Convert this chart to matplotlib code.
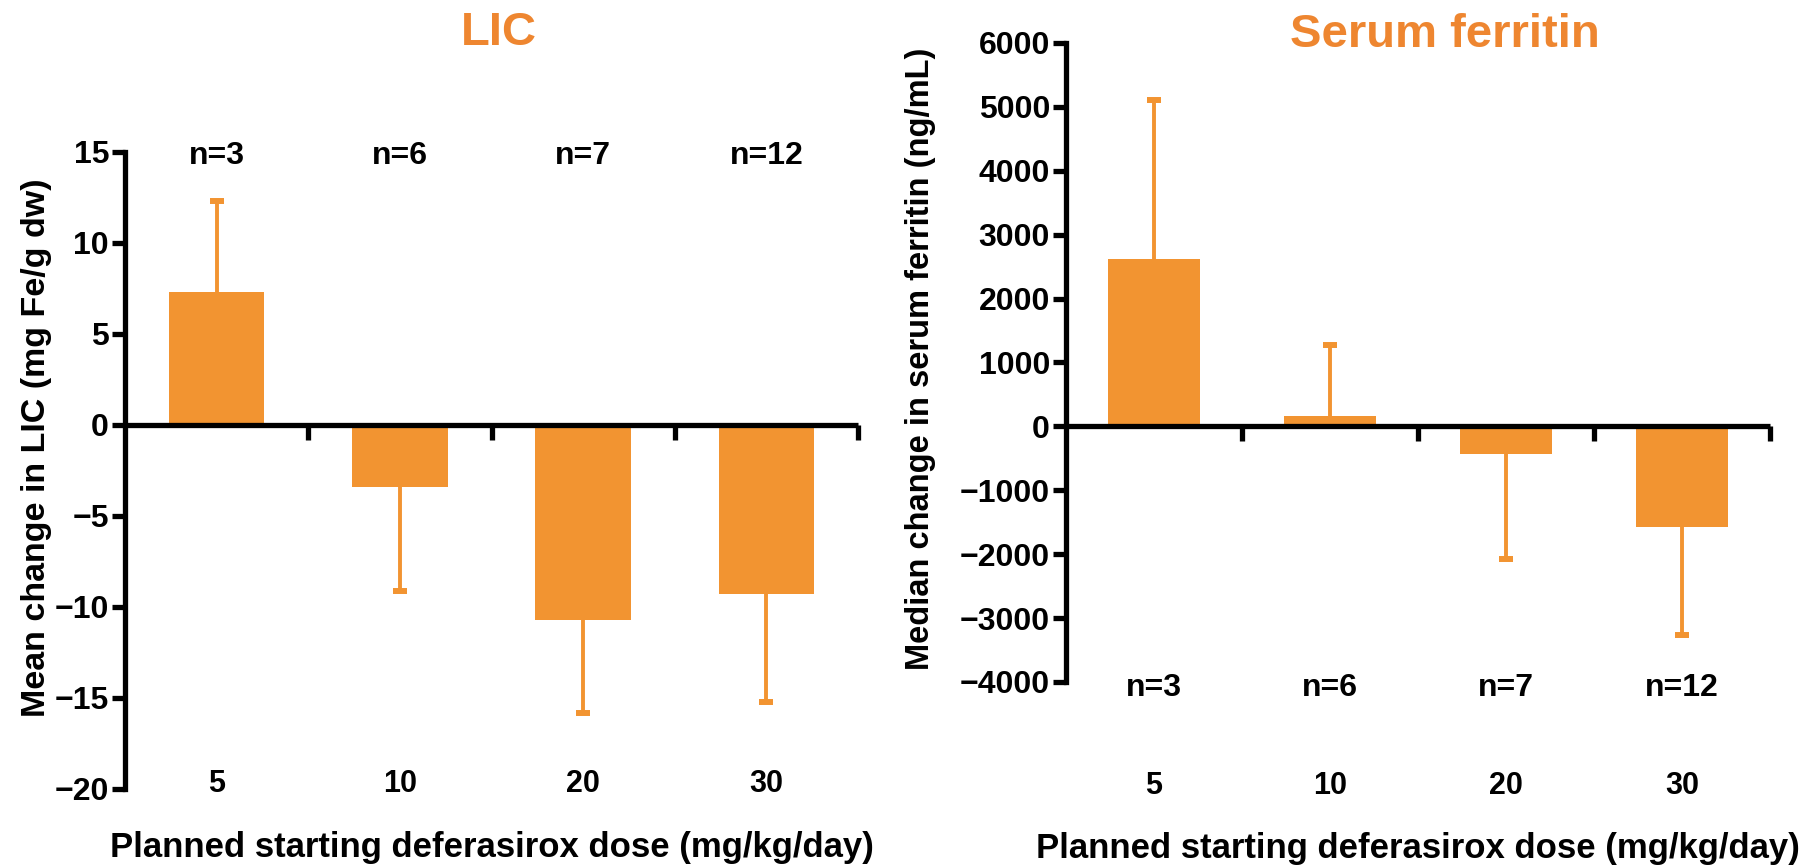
import matplotlib
matplotlib.use("Agg")
import matplotlib.pyplot as plt
import numpy as np

plt.rcParams['font.family'] = ['Liberation Sans', 'DejaVu Sans']
plt.rcParams['font.weight'] = 'bold'

# ---- data ----
doses = ["5", "10", "20", "30"]
n_labels = ["n=3", "n=6", "n=7", "n=12"]

lic_mean = [7.3, -3.4, -10.7, -9.3]
lic_err_end = [12.3, -9.1, -15.8, -15.2]

sf_median = [2620, 170, -440, -1580]
sf_err_end = [5100, 1280, -2080, -3270]

BAR = "#F29431"
TITLE = "#EE8630"

fig = plt.figure(figsize=(18.05, 8.65), dpi=100)

ax1 = fig.add_axes([0.06925, 0.0879, 0.4061, 0.7364])
ax2 = fig.add_axes([0.5906, 0.2116, 0.3900, 0.7387])

def style(ax, vals, ends, ylim, yticks, n_y, ylabel, label_xy, ylabel_size):
    x = np.arange(len(doses))
    ax.bar(x, vals, width=0.52, color=BAR, zorder=2)
    ax.vlines(x, vals, ends, color=BAR, lw=2.8, zorder=1.5)
    ax.plot(x, ends, ls='none', marker='_', ms=9.5, mew=4.3, color=BAR, zorder=1.5)
    ax.set_xlim(-0.5, 3.5)
    ax.set_ylim(*ylim)
    ax.set_yticks(yticks)
    for s in ['top', 'right']:
        ax.spines[s].set_visible(False)
    ax.spines['left'].set_linewidth(3.8)
    ax.spines['bottom'].set_linewidth(3.8)
    ax.spines['bottom'].set_position(('data', 0))
    ax.spines['bottom'].set_capstyle('butt')
    ax.tick_params(axis='y', length=9.5, width=3.8, labelsize=23, pad=2)
    ax.set_xticks(x)
    ax.set_xticklabels(doses)
    ax.set_xticks(x + 0.5, minor=True)
    ax.tick_params(axis='x', which='major', length=0, labelsize=22, pad=248)
    ax.tick_params(axis='x', which='minor', length=11, width=3.8, direction='out')
    for lab in ax.get_yticklabels() + ax.get_xticklabels():
        lab.set_fontweight('bold')
    for xi, t in zip(x, n_labels):
        ax.text(xi, n_y, t, ha='center', va='center', fontsize=23, fontweight='bold')
    ax.set_ylabel(ylabel, fontsize=ylabel_size, fontweight='bold')
    ax.yaxis.set_label_coords(*label_xy)
    ax.set_xlabel("Planned starting deferasirox dose (mg/kg/day)", fontsize=25,
                  fontweight='bold', labelpad=22.5)

style(ax1, lic_mean, lic_err_end, (-20, 15), np.arange(-20, 16, 5), 14.8,
      "Mean change in LIC (mg Fe/g dw)", (-0.10, 0.535), 24.5)
style(ax2, sf_median, sf_err_end, (-4000, 6000), np.arange(-4000, 6001, 1000), -4100,
      "Median change in serum ferritin (ng/mL)", (-0.185, 0.505), 23.5)

fig.text(499 / 1805, 1 - 33 / 865, "LIC", ha='center', va='center', fontsize=34,
         fontweight='bold', color=TITLE)
fig.text(1445 / 1805, 1 - 35 / 865, "Serum ferritin", ha='center', va='center',
         fontsize=34, fontweight='bold', color=TITLE)

fig.savefig("out.png", dpi=100)
